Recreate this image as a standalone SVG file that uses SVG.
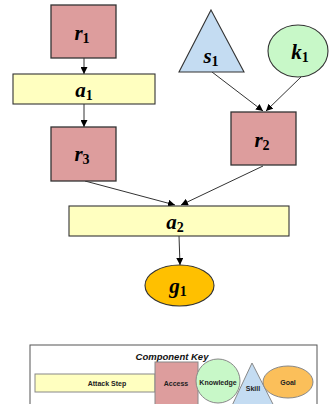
<svg xmlns="http://www.w3.org/2000/svg" width="329" height="404" viewBox="0 0 329 404">
<defs>
<marker id="ah" viewBox="0 0 10 10" refX="10" refY="5" markerWidth="7" markerHeight="7" orient="auto" markerUnits="userSpaceOnUse">
<path d="M0,0 L10,5 L0,10 z" fill="#000"/>
</marker>
<style>
.acc{fill:#dd9d9d;stroke:#333;stroke-width:1.3}
.att{fill:#ffffc0;stroke:#333;stroke-width:1.1}
.skl{fill:#c4dcf2;stroke:#333;stroke-width:1.1}
.kno{fill:#c8f8c8;stroke:#333;stroke-width:1.1}
.gol{fill:#ffc000;stroke:#333;stroke-width:1.1}
.lbl{font-family:"Liberation Serif","DejaVu Serif",serif;font-style:italic;font-weight:bold;font-size:21px;fill:#000;text-anchor:middle}
.sub{font-size:14px;font-style:normal}
.con{stroke:#333;stroke-width:1;fill:none;marker-end:url(#ah)}
.key{fill:#fff;stroke:#555;stroke-width:1}
.kt{font-family:"Liberation Sans",Arial,sans-serif;font-weight:bold;font-size:7px;fill:#222;text-anchor:middle}
.ks{stroke:#888;stroke-width:1}
</style>
</defs>
<g id="connectors">
<line class="con" x1="84" y1="58" x2="84" y2="74"/>
<line class="con" x1="84" y1="104" x2="84" y2="127"/>
<line class="con" x1="212" y1="72" x2="263" y2="111"/>
<line class="con" x1="301" y1="77" x2="266" y2="111"/>
<line class="con" x1="85" y1="181" x2="175" y2="205"/>
<line class="con" x1="263" y1="166" x2="181" y2="205"/>
<line class="con" x1="179" y1="236" x2="180" y2="265"/>
</g>
<g id="r1"><rect class="acc" x="51" y="5" width="65" height="53"/><text class="lbl" x="82" y="40">r<tspan class="sub" dy="3">1</tspan></text></g>
<g id="a1"><rect class="att" x="13" y="74" width="142" height="30"/><text class="lbl" x="84" y="97">a<tspan class="sub" dy="3">1</tspan></text></g>
<g id="r3"><rect class="acc" x="51" y="127" width="65" height="54"/><text class="lbl" x="82" y="161">r<tspan class="sub" dy="3">3</tspan></text></g>
<g id="s1"><polygon class="skl" points="211,10 244,72 179,72"/><text class="lbl" x="211" y="63">s<tspan class="sub" dy="3">1</tspan></text></g>
<g id="k1"><ellipse class="kno" cx="298" cy="51" rx="30" ry="26"/><text class="lbl" x="300" y="59">k<tspan class="sub" dy="3">1</tspan></text></g>
<g id="r2"><rect class="acc" x="231" y="112" width="65" height="53"/><text class="lbl" x="262" y="147">r<tspan class="sub" dy="3">2</tspan></text></g>
<g id="a2"><rect class="att" x="69" y="206" width="220" height="30"/><text class="lbl" x="175" y="229">a<tspan class="sub" dy="3">2</tspan></text></g>
<g id="g1"><ellipse class="gol" cx="179.5" cy="285.5" rx="34.5" ry="20.5"/><text class="lbl" x="178" y="293">g<tspan class="sub" dy="3">1</tspan></text></g>
<g id="key">
<rect class="key" x="30" y="345" width="287" height="70"/>
<text x="172" y="360" font-family="Liberation Sans,Arial,sans-serif" font-style="italic" font-weight="bold" font-size="9.5" text-anchor="middle" fill="#111">Component Key</text>
<rect class="ks" x="35" y="374" width="120" height="18" fill="#ffffc0"/>
<text class="kt" x="107" y="386">Attack Step</text>
<rect class="ks" x="155" y="362" width="43" height="50" fill="#dd9d9d"/>
<text class="kt" x="176" y="386">Access</text>
<circle class="ks" cx="218" cy="381" r="22" fill="#c8f8c8"/>
<text class="kt" x="218" y="385">Knowledge</text>
<polygon class="ks" points="252,363 277,412 229,412" fill="#c4dcf2"/>
<text class="kt" x="253" y="391">Skill</text>
<ellipse class="ks" cx="288" cy="382" rx="25" ry="16" fill="#fbbf5a"/>
<text class="kt" x="288" y="385">Goal</text>
</g>
</svg>
